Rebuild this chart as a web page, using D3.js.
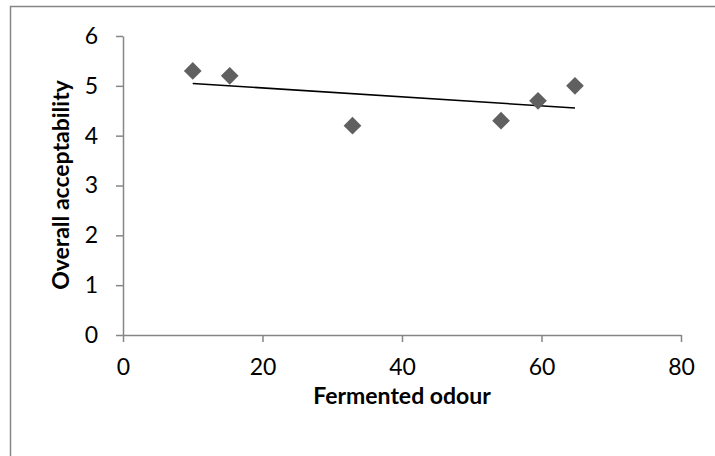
<!DOCTYPE html>
<html><head><meta charset="utf-8">
<script src="https://cdn.jsdelivr.net/npm/d3@7"></script>
<style>
body{margin:0;background:#fff;}
svg{display:block;font-family:Lato,"Open Sans",sans-serif;}
</style></head>
<body><svg id="c" width="715" height="456"></svg>
<script>
const xValues = [10, 15.3, 32.9, 54.2, 59.5, 64.8];
const yValues = [5.3, 5.2, 4.2, 4.3, 4.7, 5.0];
const xTicks = [0, 20, 40, 60, 80];
const yTicks = [0, 1, 2, 3, 4, 5, 6];
const xTitle = "Fermented odour";
const yTitle = "Overall acceptability";

const svg = d3.select("#c");
const axisColor = "#868686";

// chart border
svg.append("rect").attr("x", 10.5).attr("y", 6.5).attr("width", 720).attr("height", 460)
  .attr("fill", "#fff").attr("stroke", axisColor).attr("stroke-width", 1.5);

const x = d3.scaleLinear().domain([0, 80]).range([123, 681]);
const y = d3.scaleLinear().domain([0, 6]).range([335, 36]);

const gx = svg.append("g").attr("transform", `translate(0,${y(0)})`)
  .call(d3.axisBottom(x).tickValues(xTicks).tickFormat(d3.format("d"))
    .tickSize(7).tickSizeOuter(0).tickPadding(17));
const gy = svg.append("g").attr("transform", `translate(${x(0)},0)`)
  .call(d3.axisLeft(y).tickValues(yTicks).tickFormat(d3.format("d"))
    .tickSize(7).tickSizeOuter(0).tickPadding(18));
[gx, gy].forEach(g => {
  g.attr("font-size", null).attr("font-family", null);
  g.select(".domain").attr("stroke", axisColor).attr("stroke-width", 1.5);
  g.selectAll(".tick line").attr("stroke", axisColor).attr("stroke-width", 1.5);
  g.selectAll(".tick text").attr("fill", "#000").style("font-size", "23px").style("font-family", "Lato");
});

// trendline (least squares from data)
const mx = d3.mean(xValues), my = d3.mean(yValues);
const slope = d3.sum(xValues, (v, i) => (v - mx) * (yValues[i] - my)) / d3.sum(xValues, v => (v - mx) ** 2);
const icpt = my - slope * mx;
const x0 = d3.min(xValues), x1 = d3.max(xValues);
svg.append("line")
  .attr("x1", x(x0)).attr("y1", y(icpt + slope * x0))
  .attr("x2", x(x1)).attr("y2", y(icpt + slope * x1))
  .attr("stroke", "#000").attr("stroke-width", 1.5);

// points
const sym = d3.symbol().type(d3.symbolDiamond2).size(200);
svg.append("g").selectAll("path").data(xValues).join("path")
  .attr("d", sym)
  .attr("transform", (d, i) => `translate(${x(d)},${y(yValues[i])})`)
  .attr("fill", "#606060");

svg.append("text").attr("x", 402).attr("y", 404).attr("text-anchor", "middle")
  .style("font-size", "23px").attr("font-weight", "bold").text(xTitle);
svg.append("text").attr("transform", `translate(69,185) rotate(-90)`).attr("text-anchor", "middle")
  .style("font-size", "23px").attr("font-weight", "bold").text(yTitle);
</script></body></html>
